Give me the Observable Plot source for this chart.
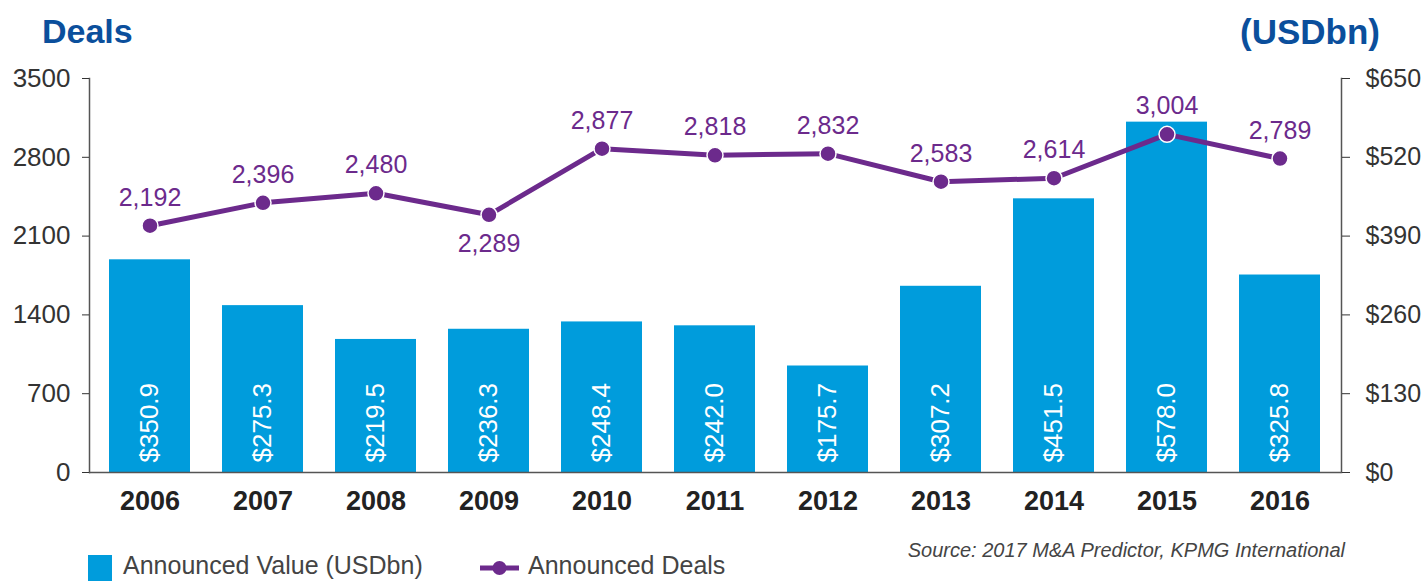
<!DOCTYPE html>
<html><head><meta charset="utf-8">
<script src="https://cdn.jsdelivr.net/npm/d3@7"></script>
<script src="https://cdn.jsdelivr.net/npm/@observablehq/plot@0.6"></script>
<style>
body{margin:0;background:#fff;font-family:"Liberation Sans",Arial,sans-serif;}
#wrap{position:relative;width:1422px;height:581px;overflow:hidden;background:#fff;}
#chart{position:absolute;left:0;top:0;}
.t{position:absolute;font-weight:bold;color:#0b4f9c;font-size:35px;line-height:1;white-space:nowrap;}
.lg{position:absolute;font-size:25px;line-height:1;color:#444;white-space:nowrap;}
.src{position:absolute;font-size:20px;line-height:1;color:#444;font-style:italic;white-space:nowrap;}
</style></head>
<body>
<div id="wrap">
  <div id="chart"></div>
  <div class="t" style="left:42px;top:14px;font-size:34px">Deals</div>
  <div class="t" style="right:42px;top:14px">(USDbn)</div>
  <div style="position:absolute;left:88px;top:555px;width:24px;height:26px;background:#009cdc"></div>
  <div class="lg" style="left:123px;top:553px">Announced Value (USDbn)</div>
  <svg style="position:absolute;left:476px;top:557px" width="48" height="22">
    <line x1="4" y1="11" x2="43" y2="11" stroke="#6c2a8c" stroke-width="5"/>
    <circle cx="23.5" cy="11" r="7" fill="#6c2a8c"/>
  </svg>
  <div class="lg" style="left:528px;top:553px">Announced Deals</div>
  <div class="src" style="right:77px;top:540px">Source: 2017 M&amp;A Predictor, KPMG International</div>
</div>
<script>
const years = ["2006","2007","2008","2009","2010","2011","2012","2013","2014","2015","2016"];
const values = [350.9, 275.3, 219.5, 236.3, 248.4, 242.0, 175.7, 307.2, 451.5, 578.0, 325.8];
const deals = [2192, 2396, 2480, 2289, 2877, 2818, 2832, 2583, 2614, 3004, 2789];
const leftTicks = [0, 700, 1400, 2100, 2800, 3500];
const rightTicks = [0, 130, 260, 390, 520, 650];
const labelBelow = ["2009"];

const leftMax = 3500, rightMax = 650;
const k = leftMax / rightMax;
const data = years.map((y, i) => ({year: y, value: values[i], deals: deals[i], barY: values[i] * k}));
const purple = "#6c2a8c";
const font = "Liberation Sans, Arial, sans-serif";

const chart = Plot.plot({
  width: 1422, height: 581,
  marginLeft: 89, marginRight: 81, marginTop: 78, marginBottom: 109,
  style: {fontFamily: font, background: "transparent", overflow: "visible"},
  x: {domain: years, paddingInner: 0.28, paddingOuter: 0.14, label: null},
  y: {domain: [0, leftMax], label: null},
  marks: [
    Plot.barY(data, {x: "year", y: "barY", fill: "#009cdc"}),
    Plot.frame({anchor: "left", stroke: "#555", strokeWidth: 1.5}),
    Plot.frame({anchor: "right", stroke: "#555", strokeWidth: 1.5}),
    Plot.ruleY([0], {stroke: "#555", strokeWidth: 1.5}),
    Plot.axisY({anchor: "left", ticks: leftTicks, tickSize: 7, tickPadding: 12, fontSize: 26, color: "#333", label: null, tickFormat: d => String(d)}),
    Plot.axisY({anchor: "right", ticks: rightTicks.map(v => v * k), tickSize: 8, tickPadding: 16, fontSize: 25, color: "#333", label: null, tickFormat: d => "$" + Math.round(d / k)}),
    Plot.axisX({anchor: "bottom", tickSize: 0, tickPadding: 18, fontSize: 27, fontWeight: "bold", color: "#222", label: null}),
    Plot.text(data, {x: "year", y: 0, text: d => "$" + d.value.toFixed(1), rotate: -90, textAnchor: "start", dy: -10, fill: "white", fontSize: 26}),
    Plot.line(data, {x: "year", y: "deals", stroke: purple, strokeWidth: 5}),
    Plot.dot(data, {x: "year", y: "deals", r: 8, fill: purple, stroke: "white", strokeWidth: 1.5}),
    Plot.text(data.filter(d => !labelBelow.includes(d.year)), {x: "year", y: "deals", text: d => d3.format(",")(d.deals), dy: -28, fill: purple, fontSize: 25}),
    Plot.text(data.filter(d => labelBelow.includes(d.year)), {x: "year", y: "deals", text: d => d3.format(",")(d.deals), dy: 29, fill: purple, fontSize: 25})
  ]
});
document.getElementById("chart").appendChild(chart);
</script>
</body></html>
